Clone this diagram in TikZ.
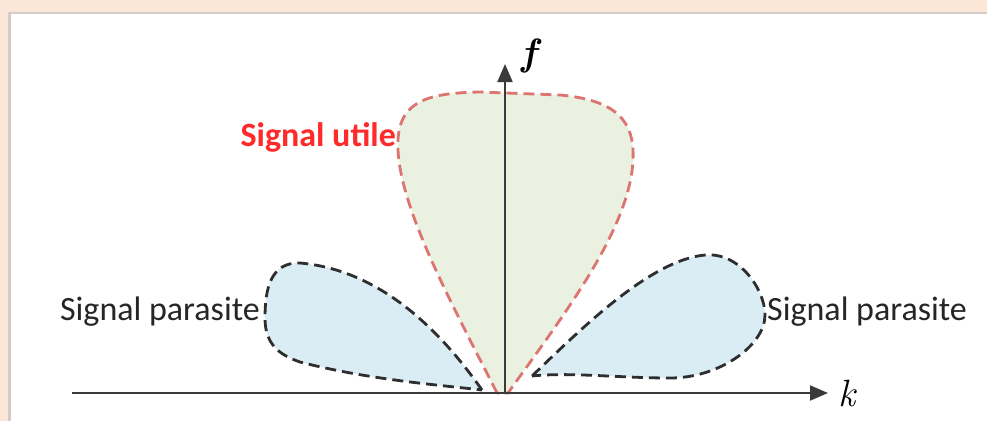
\documentclass[tikz,border=0pt]{standalone}
\usepackage{fontspec}
\setmainfont{Carlito}
\newfontfamily\varfont{Latin Modern Roman}
\usepackage{xcolor}
\usetikzlibrary{arrows.meta,positioning}
\definecolor{bgpeach}{HTML}{FBE6D8}
\definecolor{panelshadow}{HTML}{D2CDC9}
\definecolor{utilered}{HTML}{FF2A2A}
\definecolor{utiledash}{HTML}{DC7470}
\definecolor{utilefill}{HTML}{EAF1E0}
\definecolor{parafill}{HTML}{DBEDF4}
\definecolor{paradash}{HTML}{2E2E2E}
\definecolor{axisgray}{HTML}{3A3A3A}

\begin{document}
\begin{tikzpicture}[
  x=1pt, y=-1pt,
  lobe/.style={draw=#1, line width=2.8pt, dash pattern=on 11pt off 6pt},
  axisline/.style={draw=axisgray, line width=2pt, -{Triangle[length=18pt,width=15pt]}},
  sigtext/.style={inner sep=0pt, font=\fontsize{34}{40}\selectfont},
  vartext/.style={inner sep=0pt, font=\varfont\itshape\fontsize{38}{44}\selectfont},
]
\useasboundingbox (0,0) rectangle (987,421);

% Background and panel
\fill[bgpeach] (0,0) rectangle (987,421);
\fill[panelshadow] (8,12) rectangle (987,421);
\fill[white] (11,14) rectangle (987,421);

% Axes end points
\coordinate (o) at (505,393);
\coordinate (kstart) at (72,393);
\coordinate (kend) at (828,393);
\coordinate (fend) at (505,64);

% Parasite lobes
\path[lobe=paradash, fill=parafill] (482,390) .. controls (440,330) and (380,270) .. (300,263)
  .. controls (270,262) and (265,290) .. (265,318)
  .. controls (265,345) and (280,355) .. (300,362)
  .. controls (370,380) and (440,385) .. (482,390) -- cycle;
\path[lobe=paradash, fill=parafill] (532,376) .. controls (580,330) and (650,260) .. (705,255)
  .. controls (740,252) and (765,290) .. (765,315)
  .. controls (765,345) and (720,378) .. (670,378)
  .. controls (620,378) and (570,372) .. (532,376) -- cycle;

% Useful lobe
\path[lobe=utiledash, fill=utilefill] (497,393) .. controls (450,300) and (395,200) .. (398,140)
  .. controls (400,100) and (430,93) .. (480,92) -- (560,95)
  .. controls (615,100) and (635,120) .. (633,160)
  .. controls (630,230) and (560,320) .. (508,393) -- cycle;

% Axes
\draw[axisline] (kstart) -- (kend);
\draw[axisline] (o) -- (fend);
\node[vartext, right=10pt of kend] (klabel) {k};
\node[vartext] (flabel) at (529,56) {\bfseries f};

% Labels
\node[sigtext, anchor=east, text=utilered] (utile) at (396,137) {\textbf{Signal utile}};
\node[sigtext, anchor=east, text=black!85] (paraL) at (260,312) {Signal parasite};
\node[sigtext, anchor=west, text=black!85] (paraR) at (767,312) {Signal parasite};
\end{tikzpicture}
\end{document}
